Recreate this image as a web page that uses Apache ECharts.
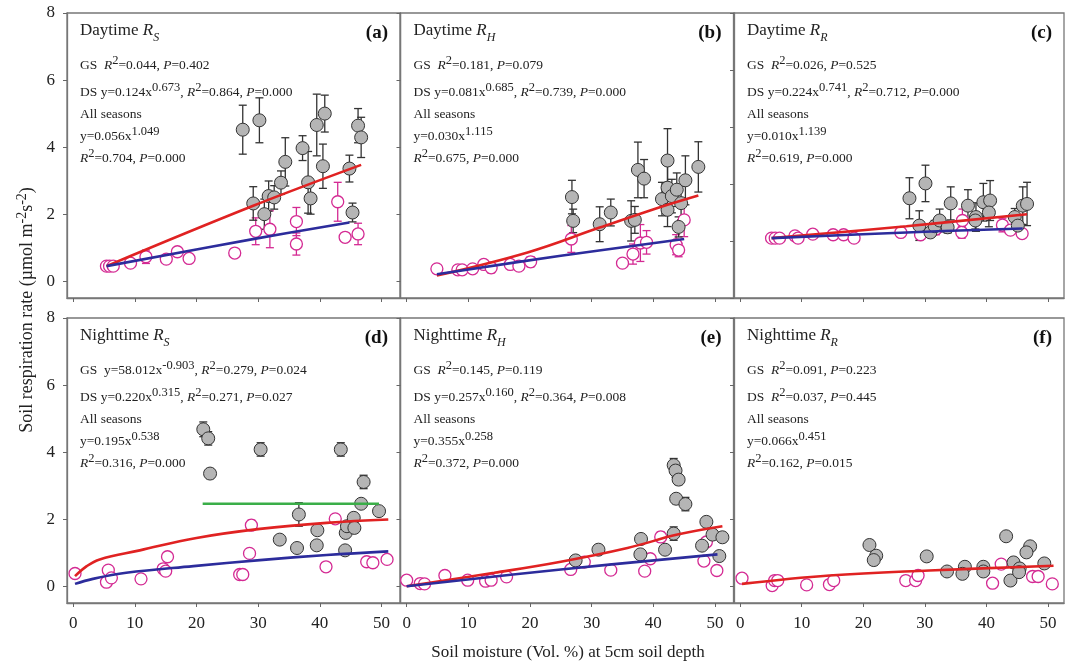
<!DOCTYPE html>
<html>
<head>
<meta charset="utf-8">
<script src="https://cdn.jsdelivr.net/npm/echarts@6/dist/echarts.min.js"></script>
<style>
  html, body { margin: 0; background: #fff; }
  #chart { width: 1072px; height: 665px; }
</style>
</head>
<body>
<div id="chart"></div>
<script>
// tick values
const xTicks = [0, 10, 20, 30, 40, 50];
const yTicks = [0, 2, 4, 6, 8];
const yTicksC = [0, 1, 2, 3, 4, 5];

// each point: [soil moisture, respiration, error]
// (a) daytime Rs
const aGS = [[5.4,0.45,0.05],[5.9,0.45,0.05],[6.5,0.45,0.05],[9.3,0.54,0.12],[11.8,0.73,0.2],[15.1,0.66,0.06],[16.9,0.88,0.1],[18.8,0.68,0.1],[26.2,0.84,0.1],[29.6,1.49,0.4],[31.9,1.55,0.55],[36.2,1.78,0.42],[36.2,1.11,0.33],[42.9,2.37,0.58],[44.1,1.31,0.12],[46.2,1.41,0.32]];
const aDS = [[27.5,4.52,0.73],[30.2,4.80,0.67],[29.2,2.32,0.5],[31.0,2.0,0.45],[31.7,2.54,0.45],[32.6,2.50,0.35],[33.7,2.94,0.35],[34.4,3.56,0.72],[37.2,3.97,0.37],[38.1,2.95,0.92],[38.5,2.47,0.47],[39.5,4.66,0.92],[40.8,5.0,0.55],[40.5,3.43,0.66],[44.8,3.36,0.4],[45.3,2.05,0.28],[46.2,4.64,0.51],[46.7,4.29,0.6]];
const aRed = [[5.4,0.45],[29.2,2.25],[46.7,3.47]];
const aBlue = [[5.4,0.45],[29.6,1.27],[44.8,1.75]];

// (b) daytime Rh
const bGS = [[4.9,0.37,0],[8.3,0.34,0],[9.0,0.34,0],[10.7,0.37,0],[12.5,0.5,0.12],[13.7,0.40,0.15],[16.8,0.5,0.12],[18.2,0.45,0],[20.1,0.58,0.15],[26.7,1.26,0.4],[35.0,0.54,0],[36.7,0.81,0.3],[37.9,1.14,0.55],[38.9,1.16,0.35],[43.7,1.09,0.3],[44.1,0.93,0.2],[45.0,1.83,0.5]];
const bDS = [[26.8,2.51,0.5],[27.0,1.80,0.35],[31.3,1.70,0.52],[33.1,2.05,0.4],[36.4,1.80,0.6],[37.0,1.83,0.4],[37.5,3.32,0.83],[38.5,3.06,0.57],[41.4,2.45,0.5],[42.3,3.60,0.95],[42.3,2.79,0.8],[42.3,2.13,0.5],[43.0,2.54,0.5],[43.8,2.73,0.5],[44.1,1.62,0.3],[44.5,2.33,0.5],[45.2,3.01,0.73],[47.3,3.41,0.75]];
const bRed = [[4.9,0.17],[19.6,0.86],[31.3,1.6],[42.3,2.28],[47.3,2.56]];
const bBlue = [[4.9,0.21],[25,0.76],[45.0,1.26]];

// (c) daytime Rr
const cGS = [[5.1,1.05,0],[5.7,1.05,0],[6.4,1.05,0],[8.9,1.09,0.05],[9.4,1.05,0],[11.8,1.12,0.05],[15.1,1.11,0],[16.8,1.11,0],[18.5,1.05,0],[26.1,1.15,0.07],[29.3,1.11,0],[31.8,1.21,0.1],[36.0,1.15,0.1],[36.1,1.36,0.2],[42.6,1.28,0.12],[43.9,1.19,0],[45.8,1.13,0]];
const cDS = [[27.5,1.75,0.36],[29.1,1.27,0.26],[30.1,2.01,0.32],[30.9,1.15,0],[31.6,1.26,0.1],[32.4,1.36,0.2],[33.7,1.24,0.1],[34.2,1.66,0.29],[37.0,1.62,0.28],[38.3,1.42,0.25],[38.2,1.36,0.15],[39.5,1.68,0.33],[40.6,1.71,0.35],[40.4,1.50,0.25],[44.6,1.42,0.15],[45.1,1.27,0],[45.9,1.62,0.33],[46.6,1.65,0.38]];
const cRed = [[5.1,1.05],[27,1.26],[46.6,1.47]];
const cBlue = [[5.1,1.05],[27,1.15],[45.9,1.22]];

// (d) nighttime Rs
const dGS = [[0.3,0.38,0],[5.7,0.48,0],[5.4,0.12,0],[6.2,0.25,0],[11.0,0.22,0],[14.6,0.52,0],[15.0,0.45,0],[15.3,0.88,0],[27.0,0.35,0],[27.5,0.35,0],[28.9,1.82,0.15],[28.6,0.98,0],[41.0,0.58,0],[42.5,2.01,0],[47.6,0.73,0],[48.6,0.70,0],[50.9,0.80,0]];
const dDS = [[21.1,4.68,0.22],[21.9,4.41,0.2],[22.2,3.36,0.15],[30.4,4.08,0.2],[43.4,4.08,0.2],[47.1,3.11,0.2],[46.7,2.46,0.1],[49.6,2.24,0.1],[36.6,2.14,0.35],[33.5,1.39,0],[36.3,1.14,0],[39.6,1.67,0],[39.5,1.22,0],[44.2,1.59,0],[44.4,1.79,0],[45.5,2.04,0.1],[45.6,1.74,0],[44.1,1.07,0]];
const dRed = [[0.3,0.3],[2.2,0.6],[4.3,0.8],[10.8,1.07],[20,1.44],[30.3,1.71],[41.1,1.89],[51.1,1.99]];
const dBlue = [[0.3,0.07],[3.2,0.22],[8.6,0.4],[19.5,0.6],[30.3,0.78],[41.1,0.93],[51.1,1.04]];
const dGreen = [[21.0,2.46],[49.6,2.46]];

// (e) nighttime Rh
const eGS = [[0.0,0.18,0],[2.2,0.08,0],[2.9,0.07,0],[6.2,0.32,0],[9.9,0.18,0],[12.8,0.15,0],[13.7,0.18,0],[16.2,0.28,0],[26.6,0.5,0],[28.8,0.72,0],[33.1,0.48,0],[38.6,0.45,0],[39.5,0.82,0],[41.2,1.47,0.15],[48.2,0.75,0],[48.6,1.32,0],[50.3,0.47,0]];
const eDS = [[43.3,3.61,0.2],[43.6,3.45,0.2],[44.1,3.18,0.15],[43.7,2.61,0.15],[45.2,2.45,0.2],[43.3,1.57,0.2],[38.0,1.41,0],[37.9,0.95,0],[41.9,1.09,0],[31.1,1.09,0],[27.4,0.77,0],[48.6,1.92,0.1],[49.6,1.54,0.1],[47.9,1.21,0],[51.2,1.46,0.1],[50.7,0.90,0]];
const eRed = [[0.0,0.0],[14.2,0.4],[25,0.73],[35.8,1.14],[43.9,1.54],[51.2,1.79]];
const eBlue = [[0.0,0.0],[25,0.5],[50.4,0.95]];

// (f) nighttime Rr
const fGS = [[0.3,0.24,0],[5.2,0.02,0],[5.6,0.17,0],[6.1,0.17,0],[10.8,0.04,0],[14.5,0.05,0],[15.2,0.17,0],[26.9,0.17,0],[28.5,0.17,0],[28.9,0.32,0],[41.0,0.09,0],[42.4,0.66,0],[47.5,0.29,0],[48.4,0.29,0],[50.7,0.07,0]];
const fDS = [[21.0,1.23,0.12],[22.1,0.91,0.1],[21.7,0.78,0.15],[30.3,0.89,0.1],[33.6,0.44,0],[36.5,0.58,0],[36.1,0.37,0],[39.5,0.58,0],[39.5,0.44,0],[43.2,1.49,0.1],[44.4,0.71,0],[43.9,0.17,0],[45.4,0.53,0],[45.3,0.42,0],[47.1,1.19,0],[46.5,1.01,0],[49.4,0.68,0]];
const fRed = [[0.3,0.07],[14.5,0.32],[30.7,0.47],[50.9,0.61]];

const SERIF = "'Liberation Serif', 'Times New Roman', serif";
const PINK = '#d42a93';
const RED = '#e02222';
const BLUE = '#2c2c9c';
const GREEN = '#3aae48';

const cols = [
  { left: 67, width: 333, max: 53 },
  { left: 400.5, width: 333, max: 53 },
  { left: 734, width: 330, max: 52.6 }
];
const rows = [{ top: 13, height: 285 }, { top: 318, height: 285 }];

const panels = [
  { gs: aGS, ds: aDS, red: aRed, blue: aBlue, tag: '(a)', title: 'Daytime {i|R}{sub|S}',
    lines: ['GS  {i|R}{sup|2}=0.044, {i|P}=0.402', 'DS y=0.124x{sup|0.673}, {i|R}{sup|2}=0.864, {i|P}=0.000', 'All seasons', 'y=0.056x{sup|1.049}', '{i|R}{sup|2}=0.704, {i|P}=0.000'] },
  { gs: bGS, ds: bDS, red: bRed, blue: bBlue, tag: '(b)', title: 'Daytime {i|R}{sub|H}',
    lines: ['GS  {i|R}{sup|2}=0.181, {i|P}=0.079', 'DS y=0.081x{sup|0.685}, {i|R}{sup|2}=0.739, {i|P}=0.000', 'All seasons', 'y=0.030x{sup|1.115}', '{i|R}{sup|2}=0.675, {i|P}=0.000'] },
  { gs: cGS, ds: cDS, red: cRed, blue: cBlue, tag: '(c)', title: 'Daytime {i|R}{sub|R}', yMin: 0, yMax: 5, yt: yTicksC,
    lines: ['GS  {i|R}{sup|2}=0.026, {i|P}=0.525', 'DS y=0.224x{sup|0.741}, {i|R}{sup|2}=0.712, {i|P}=0.000', 'All seasons', 'y=0.010x{sup|1.139}', '{i|R}{sup|2}=0.619, {i|P}=0.000'] },
  { gs: dGS, ds: dDS, red: dRed, blue: dBlue, green: dGreen, tag: '(d)', title: 'Nighttime {i|R}{sub|S}',
    lines: ['GS  y=58.012x{sup|-0.903}, {i|R}{sup|2}=0.279, {i|P}=0.024', 'DS y=0.220x{sup|0.315}, {i|R}{sup|2}=0.271, {i|P}=0.027', 'All seasons', 'y=0.195x{sup|0.538}', '{i|R}{sup|2}=0.316, {i|P}=0.000'] },
  { gs: eGS, ds: eDS, red: eRed, blue: eBlue, tag: '(e)', title: 'Nighttime {i|R}{sub|H}',
    lines: ['GS  {i|R}{sup|2}=0.145, {i|P}=0.119', 'DS y=0.257x{sup|0.160}, {i|R}{sup|2}=0.364, {i|P}=0.008', 'All seasons', 'y=0.355x{sup|0.258}', '{i|R}{sup|2}=0.372, {i|P}=0.000'] },
  { gs: fGS, ds: fDS, red: fRed, tag: '(f)', title: 'Nighttime {i|R}{sub|R}',
    lines: ['GS  {i|R}{sup|2}=0.091, {i|P}=0.223', 'DS  {i|R}{sup|2}=0.037, {i|P}=0.445', 'All seasons', 'y=0.066x{sup|0.451}', '{i|R}{sup|2}=0.162, {i|P}=0.015'] }
];

const richSmall = {
  i: { fontStyle: 'italic', fontFamily: SERIF, fontSize: 13.5, lineHeight: 22 },
  sup: { fontFamily: SERIF, fontSize: 12.5, lineHeight: 8, verticalAlign: 'top' }
};
const richTitle = {
  i: { fontStyle: 'italic', fontFamily: SERIF, fontSize: 17, lineHeight: 26 },
  sub: { fontStyle: 'italic', fontFamily: SERIF, fontSize: 12, lineHeight: 14, verticalAlign: 'bottom' }
};

function errorBars(data, color, idx) {
  return {
    type: 'custom', xAxisIndex: idx, yAxisIndex: idx, z: 2, silent: true,
    data: data.filter(d => d[2] > 0),
    encode: { x: 0, y: 1 },
    renderItem: function (params, api) {
      const x = api.value(0), y = api.value(1), e = api.value(2);
      const t = api.coord([x, y + e]);
      const b = api.coord([x, y - e]);
      const st = { stroke: color, lineWidth: 1.3 };
      return {
        type: 'group',
        children: [
          { type: 'line', shape: { x1: t[0], y1: t[1], x2: b[0], y2: b[1] }, style: st },
          { type: 'line', shape: { x1: t[0] - 4, y1: t[1], x2: t[0] + 4, y2: t[1] }, style: st },
          { type: 'line', shape: { x1: b[0] - 4, y1: b[1], x2: b[0] + 4, y2: b[1] }, style: st }
        ]
      };
    }
  };
}

function lineSeries(data, color, idx) {
  return {
    type: 'line', xAxisIndex: idx, yAxisIndex: idx, data: data, z: 5, silent: true,
    showSymbol: false, smooth: 0.4, lineStyle: { color: color, width: 2.6 }
  };
}

const grid = [], xAxis = [], yAxis = [], series = [], graphic = [];

panels.forEach(function (p, i) {
  const c = cols[i % 3], r = rows[Math.floor(i / 3)];
  const bottom = i >= 3, firstCol = i % 3 === 0;
  grid.push({ left: c.left, top: r.top, width: c.width, height: r.height, show: true,
    borderColor: '#777', borderWidth: 1.3, backgroundColor: 'transparent' });
  xAxis.push({
    gridIndex: i, type: 'value', min: -1, max: c.max,
    axisLine: { show: true, onZero: false, lineStyle: { color: '#777', width: 1.3 } },
    splitLine: { show: false },
    axisTick: { show: true, length: 4, customValues: xTicks, lineStyle: { color: '#666' } },
    axisLabel: { show: bottom, customValues: xTicks, margin: 12, color: '#222', fontSize: 17, fontFamily: SERIF }
  });
  const yt = p.yt || yTicks;
  yAxis.push({
    gridIndex: i, type: 'value', min: p.yMin !== undefined ? p.yMin : -0.5, max: p.yMax || 8,
    axisLine: { show: true, onZero: false, lineStyle: { color: '#777', width: 1.3 } },
    splitLine: { show: false },
    axisTick: { show: true, length: 4, customValues: yt, lineStyle: { color: '#666' } },
    axisLabel: { show: firstCol, customValues: yt, margin: 12, color: '#222', fontSize: 17, fontFamily: SERIF }
  });

  series.push(errorBars(p.gs, PINK, i));
  series.push({
    type: 'scatter', xAxisIndex: i, yAxisIndex: i, data: p.gs, z: 3, silent: true,
    symbol: 'circle', symbolSize: 12,
    itemStyle: { color: '#fff', borderColor: PINK, borderWidth: 1.3, opacity: 1 }
  });
  series.push(errorBars(p.ds, '#333', i));
  series.push({
    type: 'scatter', xAxisIndex: i, yAxisIndex: i, data: p.ds, z: 4, silent: true,
    symbol: 'circle', symbolSize: 13,
    itemStyle: { color: '#b5b5b5', borderColor: '#333', borderWidth: 1, opacity: 1 }
  });
  series.push(lineSeries(p.red, RED, i));
  if (p.blue) series.push(lineSeries(p.blue, BLUE, i));
  if (p.green) series.push(lineSeries(p.green, GREEN, i));

  // annotations
  const tx = c.left + 13;
  graphic.push({
    type: 'text', x: tx, y: r.top + 18, silent: true,
    style: { text: p.title, fill: '#222', fontFamily: SERIF, fontSize: 17, lineHeight: 26,
      align: 'left', verticalAlign: 'middle', rich: richTitle }
  });
  graphic.push({
    type: 'text', x: c.left + c.width - 12, y: r.top + 20, silent: true,
    style: { text: p.tag, fill: '#111', fontFamily: SERIF, fontSize: 19, fontWeight: 'bold',
      align: 'right', verticalAlign: 'middle' }
  });
  const offs = [52, 79, 101, 123, 145];
  p.lines.forEach(function (t, k) {
    graphic.push({
      type: 'text', x: tx, y: r.top + offs[k], silent: true,
      style: { text: t, fill: '#222', fontFamily: SERIF, fontSize: 13.5, lineHeight: 22,
        align: 'left', verticalAlign: 'middle', rich: richSmall }
    });
  });
});

// axis titles
graphic.push({
  type: 'text', x: 27, y: 310, rotation: Math.PI / 2, silent: true,
  style: { text: 'Soil respiration rate (\u00b5mol m{sup|-2}s{sup|-2})', fill: '#222', fontFamily: SERIF,
    fontSize: 18, lineHeight: 24, align: 'center', verticalAlign: 'middle',
    rich: { sup: { fontFamily: SERIF, fontSize: 14, lineHeight: 9, verticalAlign: 'top' } } }
});
graphic.push({
  type: 'text', x: 568, y: 653, silent: true,
  style: { text: 'Soil moisture (Vol. %) at 5cm soil depth', fill: '#222', fontFamily: SERIF,
    fontSize: 17, align: 'center', verticalAlign: 'middle' }
});

const chart = echarts.init(document.getElementById('chart'));
chart.setOption({
  animation: false,
  backgroundColor: '#fff',
  grid: grid,
  xAxis: xAxis,
  yAxis: yAxis,
  series: series,
  graphic: graphic
});
</script>
</body>
</html>
